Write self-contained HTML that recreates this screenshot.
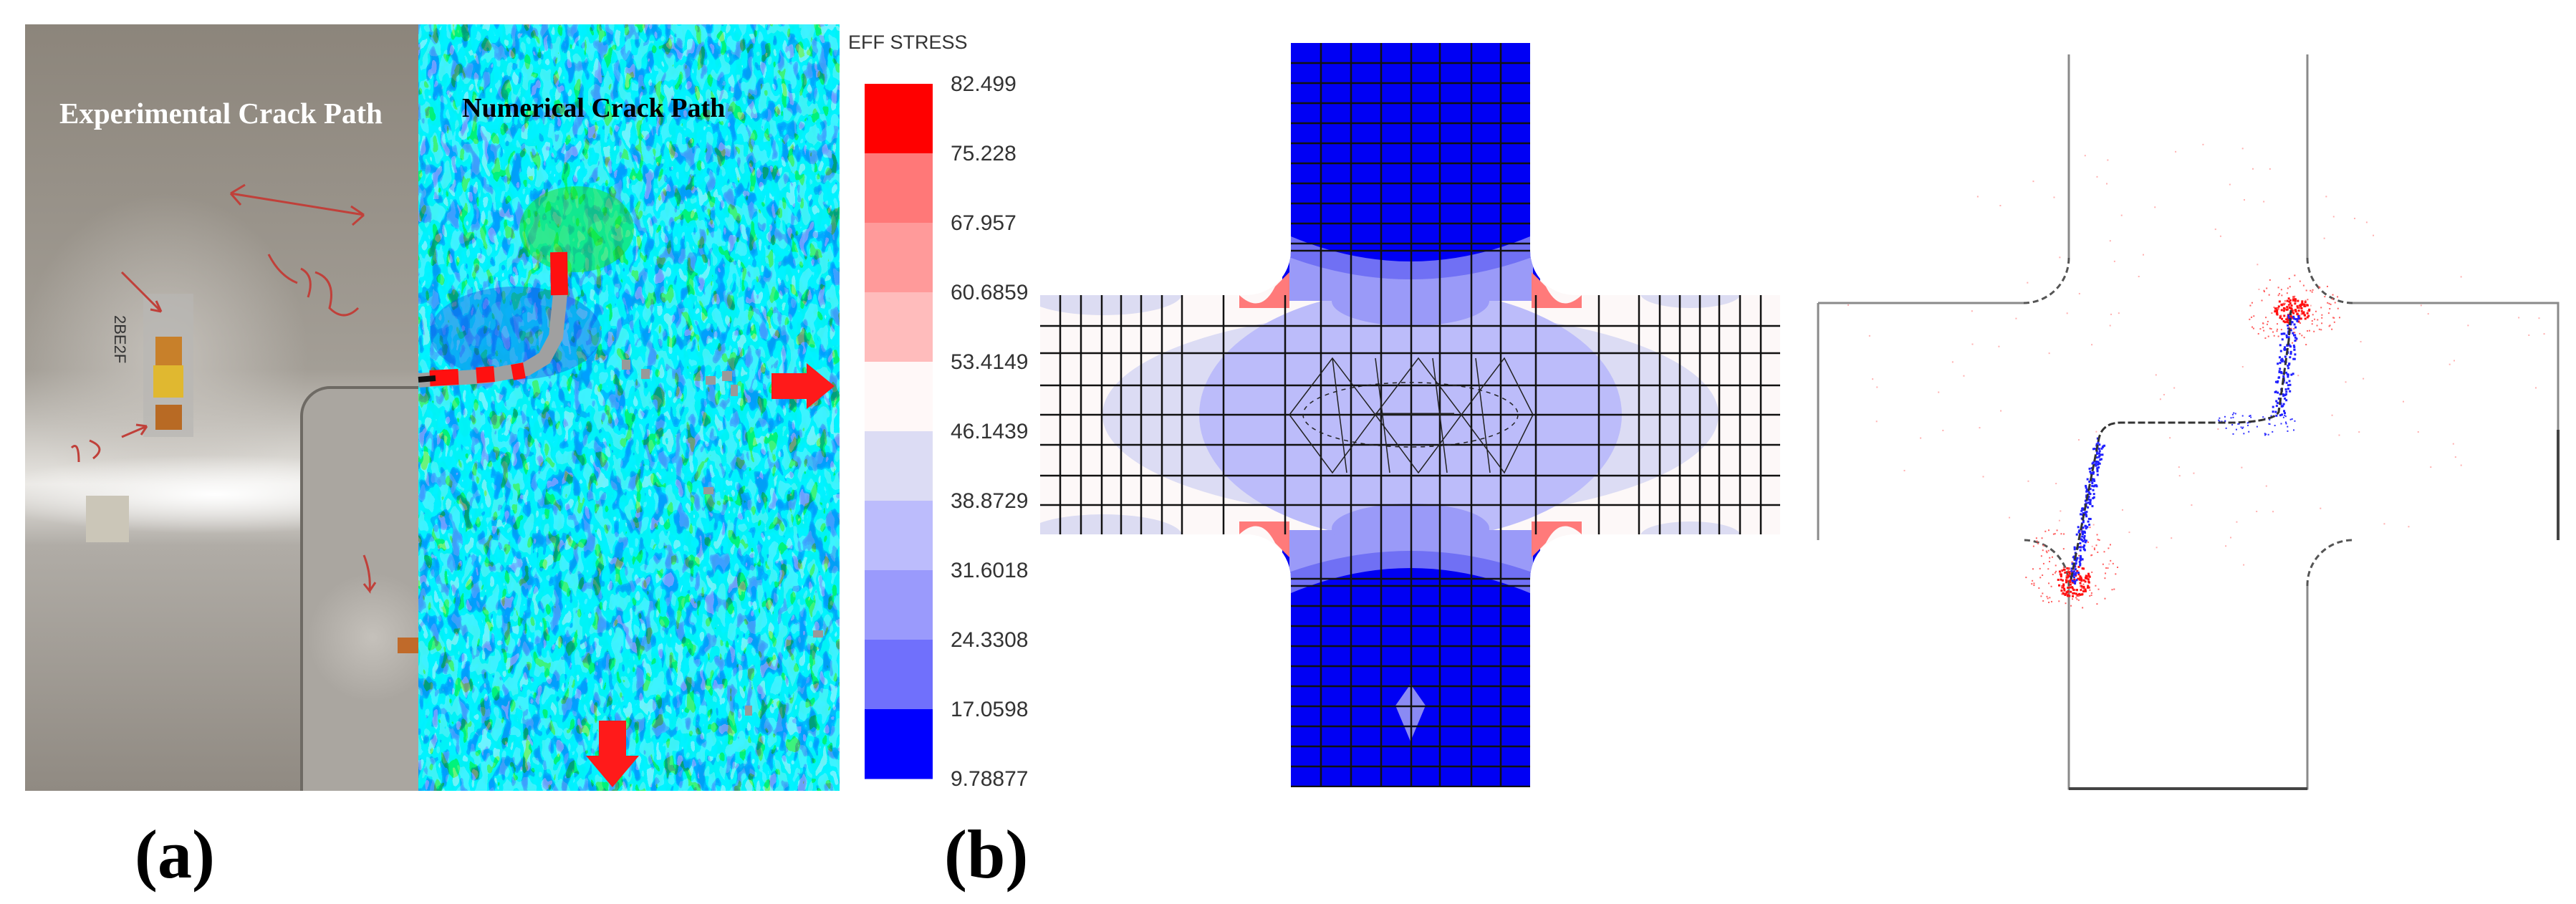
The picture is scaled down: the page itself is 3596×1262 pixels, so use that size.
<!DOCTYPE html>
<html><head><meta charset="utf-8"><style>
html,body{margin:0;padding:0;background:#fff;width:3596px;height:1262px;overflow:hidden}
svg{display:block}
</style></head><body>
<svg width="3596" height="1262" viewBox="0 0 3596 1262" xmlns="http://www.w3.org/2000/svg">
<defs>
  <filter id="dic" x="0" y="0" width="100%" height="100%">
    <feTurbulence type="fractalNoise" baseFrequency="0.07 0.035" numOctaves="2" seed="7" result="n"/>
    <feComponentTransfer in="n" result="m">
      <feFuncR type="discrete" tableValues="0.05 0.05 0.05 0.05 0.05 0.05 0.05 0.05 0.05 0 0 0 0 0.15 0.15 0.15 0.15 0.15 0.15 0.15"/>
      <feFuncG type="discrete" tableValues="0.35 0.35 0.35 0.35 0.35 0.35 0.35 0.4 0.5 0.88 0.9 0.9 0.9 0.88 0.88 0.88 0.88 0.88 0.88 0.88"/>
      <feFuncB type="discrete" tableValues="1 1 1 1 1 1 1 1 1 0.95 0.92 0.92 0.92 0.2 0.2 0.2 0.2 0.2 0.2 0.2"/>
      <feFuncA type="linear" slope="0" intercept="1"/>
    </feComponentTransfer>
  </filter>
  <linearGradient id="photoG" x1="0" y1="0" x2="0" y2="1">
    <stop offset="0" stop-color="#8c857b"/>
    <stop offset="0.45" stop-color="#a39e96"/>
    <stop offset="0.6" stop-color="#e8e6e2"/>
    <stop offset="0.68" stop-color="#b0aca6"/>
    <stop offset="1" stop-color="#908a82"/>
  </linearGradient>
  <radialGradient id="haze" cx="0.5" cy="0.5" r="0.5">
    <stop offset="0" stop-color="#c8c4be" stop-opacity="0.9"/>
    <stop offset="1" stop-color="#c8c4be" stop-opacity="0"/>
  </radialGradient>
  <radialGradient id="streak" cx="0.5" cy="0.5" r="0.5">
    <stop offset="0" stop-color="#ffffff"/>
    <stop offset="1" stop-color="#ffffff" stop-opacity="0"/>
  </radialGradient>
  <clipPath id="photoClip"><rect x="35" y="34" width="549" height="1070"/></clipPath>
  <clipPath id="crossA"><path d="M1802,60 H2136 V350 A62,62 0 0 0 2198,412 H2485 V746 H2198 A62,62 0 0 0 2136,808 V1099 H1802 V808 A62,62 0 0 0 1740,746 H1452 V412 H1740 A62,62 0 0 0 1802,350 Z"/></clipPath>
</defs>

<!-- (a) photo -->
<g clip-path="url(#photoClip)">
  <rect x="35" y="34" width="549" height="1070" fill="url(#photoG)"/>
  <ellipse cx="230" cy="500" rx="200" ry="230" fill="url(#haze)"/>
  <ellipse cx="300" cy="690" rx="330" ry="55" fill="url(#streak)"/>
  <rect x="421" y="541" width="220" height="620" rx="40" fill="#aaa6a0" stroke="#6e6a64" stroke-width="4"/>
  <ellipse cx="520" cy="890" rx="90" ry="90" fill="url(#haze)"/>
  <rect x="200" y="410" width="70" height="200" fill="#b8b6b4" opacity="0.7"/>
  <rect x="217" y="470" width="37" height="40" fill="#c8802a"/>
  <rect x="214" y="510" width="42" height="45" fill="#e0b830"/>
  <rect x="217" y="565" width="37" height="35" fill="#b86a24"/>
  <rect x="120" y="692" width="60" height="65" fill="#cbc6b8"/>
  <rect x="555" y="890" width="29" height="22" fill="#c06a2a"/>
  <g fill="none" stroke="#c0403a" stroke-width="3">
    <path d="M322,270 L508,300 M322,270 L342,258 M322,270 L336,286 M508,300 L490,288 M508,300 L492,314"/>
    <path d="M375,355 q15,30 40,40 M420,375 q20,10 10,40 M440,380 q30 10 20 50 q20 20 40 0"/>
    <path d="M170,380 L225,435 L218,420 M225,435 L210,432"/>
    <path d="M170,610 L205,595 M205,595 l-15,-2 M205,595 l-8,12"/>
    <path d="M100,625 q10,-10 10,20 M125,615 q25,10 5,25"/>
    <path d="M508,775 q10,25 8,50 l-8,-10 M516,825 l8,-12"/>
  </g>
  <text x="160" y="440" font-family="Liberation Sans, sans-serif" font-size="22" fill="#333" transform="rotate(90 160 440)">2BE2F</text>
  <text x="83" y="172" font-family="Liberation Serif, serif" font-weight="bold" font-size="41" fill="#fff">Experimental Crack Path</text>
</g>

<!-- DIC map -->
<g>
  <rect x="584" y="34" width="588" height="1070" fill="#10d8e8"/>
  <rect x="584" y="34" width="588" height="1070" filter="url(#dic)"/>
  <ellipse cx="720" cy="465" rx="120" ry="65" fill="#1a4ce8" opacity="0.4"/>
  <ellipse cx="805" cy="320" rx="80" ry="60" fill="#22e022" opacity="0.5"/>
  <path d="M780,352 L782,410 L776,470 L760,500 L735,515 L680,525 L584,531" fill="none" stroke="#a0a0a0" stroke-width="20"/>
  <path d="M780,352 L781,412" stroke="#ff1010" stroke-width="24"/>
  <path d="M600,528 L640,526 M665,524 L690,522 M715,520 L732,517" stroke="#ff1010" stroke-width="22"/>
  <path d="M584,530 L608,528" stroke="#111" stroke-width="8"/>
  <g fill="#999"><rect x="868" y="502" width="12" height="14"/><rect x="895" y="515" width="12" height="14"/><rect x="985" y="525" width="14" height="12"/><rect x="1008" y="518" width="14" height="14"/><rect x="1020" y="537" width="10" height="16"/><rect x="982" y="680" width="14" height="10"/><rect x="1040" y="985" width="10" height="14"/><rect x="1135" y="880" width="14" height="10"/></g>
  <path d="M1077,521 H1126 V507 L1165,539 L1126,571 V557 H1077 Z" fill="#ff1a1a"/>
  <path d="M836,1006 H874 V1055 H892 L855,1099 L818,1055 H836 Z" fill="#ff1a1a"/>
  <text x="645" y="163" font-family="Liberation Serif, serif" font-weight="bold" font-size="38" fill="#000">Numerical Crack Path</text>
</g>

<!-- colorbar -->
<g font-family="Liberation Sans, sans-serif" font-size="30" fill="#333">
  <text x="1184" y="68" font-size="27">EFF STRESS</text>
  <g id="cbar"></g>
</g>

<text x="188" y="1225" font-family="Liberation Serif, serif" font-weight="bold" font-size="96" fill="#000">(a)</text>
<text x="1318" y="1225" font-family="Liberation Serif, serif" font-weight="bold" font-size="96" fill="#000">(b)</text>

<!-- FE model -->
<g>
  <g clip-path="url(#crossA)">
    <rect x="1440" y="50" width="1060" height="1060" fill="#fdf8f8"/>
    <rect x="1790" y="50" width="360" height="360" fill="#0000f4"/>
    <rect x="1790" y="748" width="360" height="360" fill="#0000f4"/>
    <ellipse cx="1540" cy="410" rx="110" ry="30" fill="#dcdcf2"/>
    <ellipse cx="1540" cy="748" rx="110" ry="30" fill="#dcdcf2"/>
    <ellipse cx="2360" cy="410" rx="70" ry="20" fill="#dcdcf2"/>
    <ellipse cx="2360" cy="748" rx="70" ry="20" fill="#dcdcf2"/>
    <ellipse cx="1969" cy="579" rx="430" ry="145" fill="#dcdcf4"/>
    <ellipse cx="1969" cy="579" rx="295" ry="175" fill="#bcbcfa"/>
    <path d="M1800,345 Q1969,420 2140,345 L2140,420 L1800,420 Z" fill="#9a9af8"/>
    <path d="M1800,813 Q1969,738 2140,813 L2140,740 L1800,740 Z" fill="#9a9af8"/>
    <ellipse cx="1969" cy="420" rx="110" ry="35" fill="#9a9af8"/>
    <ellipse cx="1969" cy="738" rx="110" ry="35" fill="#9a9af8"/>
    <path d="M1802,330 Q1969,400 2136,330 L2136,360 Q1969,420 1802,360 Z" fill="#7070f4"/>
    <path d="M1802,828 Q1969,758 2136,828 L2136,798 Q1969,740 1802,798 Z" fill="#7070f4"/>
    <path d="M1969,955 L1990,985 L1969,1035 L1948,985 Z" fill="#8a8af4"/>
    <path d="M1730,412 Q1760,440 1780,400 L1800,380 L1800,430 L1730,430 Z" fill="#ff7a7a"/>
    <path d="M2208,412 Q2178,440 2158,400 L2138,380 L2138,430 L2208,430 Z" fill="#ff7a7a"/>
    <path d="M1730,746 Q1760,718 1780,758 L1800,778 L1800,728 L1730,728 Z" fill="#ff7a7a"/>
    <path d="M2208,746 Q2178,718 2158,758 L2138,778 L2138,728 L2208,728 Z" fill="#ff7a7a"/>
    <g id="mesh" stroke="#111" stroke-width="2.5" fill="none"></g>
    <g stroke="#222" stroke-width="1.5" fill="none">
      <path d="M1800,579 L1860,500 L1920,579 L1980,500 L2040,579 L2100,500 L2140,579 M1800,579 L1860,660 L1920,579 L1980,660 L2040,579 L2100,660 L2140,579 M1860,500 L1880,660 M1920,500 L1940,660 M2000,500 L2020,660 M2060,500 L2080,660"/>
      <ellipse cx="1969" cy="579" rx="150" ry="45" stroke-dasharray="6 6"/>
      <path d="M1920,578 H2030" stroke-width="3"/>
    </g>
  </g>
</g>

<!-- right model -->
<g>
  <path d="M2888,76 V360 M3221,76 V360 M2888,818 V1101 H3221 V818 M2538,423 H2825 M3284,423 H3571 V754 M2538,423 V754" fill="none" stroke="#8a8a8a" stroke-width="3"/>
  <path d="M3571,600 V754 M2888,1101 H3221" stroke="#444" stroke-width="4"/>
  <path d="M2888,360 A63,63 0 0 1 2825,423 M3221,360 A63,63 0 0 0 3284,423 M2888,818 A63,63 0 0 0 2825,754 M3221,818 A63,63 0 0 1 3284,754" fill="none" stroke="#555" stroke-width="3" stroke-dasharray="8 5"/>
  <g id="dots"></g>
  <path d="M2891,809 L2930,612 Q2935,590 2961,590 L3119,590 Q3175,588 3181,575 L3195,475 L3198,433" fill="none" stroke="#333" stroke-width="3" stroke-dasharray="10 4"/>
</g>
</svg>
<script>
// colorbar
const cbLabels=["82.499","75.228","67.957","60.6859","53.4149","46.1439","38.8729","31.6018","24.3308","17.0598","9.78877"];
const cbColors=["#ff0000","#ff7878","#ff9a9a","#ffbcbc","#fff8f8","#dcdcf4","#bcbcfc","#9a9afc","#7070fc","#0000ff"];
const NS="http://www.w3.org/2000/svg";
(function(){
  const g=document.getElementById('cbar');
  const top=117,bot=1087,n=cbColors.length,h=(bot-top)/n;
  cbColors.forEach(function(c,i){
    const r=document.createElementNS(NS,'rect');
    r.setAttribute('x',1207);r.setAttribute('y',top+i*h);r.setAttribute('width',95);r.setAttribute('height',h+0.5);r.setAttribute('fill',c);
    
    
    g.appendChild(r);
  });
  cbLabels.forEach(function(t,i){
    const tx=document.createElementNS(NS,'text');
    tx.setAttribute('x',1327);tx.setAttribute('y',top+i*h+10);tx.textContent=t;
    
    
    g.appendChild(tx);
  });
  // mesh
  const m=document.getElementById('mesh');
  let d="";
  [1844,1886,1928,1970,2010,2054,2095].forEach(function(x){d+="M"+x+",60 V1099 ";});
  for(let y=88;y<350;y+=28)d+="M1802,"+y+" H2136 ";
  for(let y=818;y<1099;y+=28)d+="M1802,"+y+" H2136 ";
  d+="M1802,340 H2136 M1802,350 H2136 M1802,808 H2136 M1802,818 H2136 ";
  [455,493,538,579,621,664,705].forEach(function(y){d+="M1452,"+y+" H2485 ";});
  [1480,1509,1538,1565,1593,1622,1650,1708,1794,2144,2232,2288,2317,2345,2373,2400,2429,2458].forEach(function(x){d+="M"+x+",412 V746 ";});
  const p=document.createElementNS(NS,'path');p.setAttribute('d',d);
  
  
  m.appendChild(p);
  // scatter dots (texture)
  let s=12345;
  function rnd(){s=(s*16807)%2147483647;return s/2147483647;}
  const dg=document.getElementById('dots');
  function cluster(cx,cy,rx,ry,n,col,sz){
    for(let i=0;i<n;i++){
      const a=rnd()*6.283,r=Math.sqrt(rnd());
      const c=document.createElementNS(NS,'rect');
      c.setAttribute('x',cx+Math.cos(a)*r*rx);c.setAttribute('y',cy+Math.sin(a)*r*ry);
      c.setAttribute('width',sz);c.setAttribute('height',sz);c.setAttribute('fill',col);
      dg.appendChild(c);
    }
  }
  cluster(3198,433,25,20,120,"#ff1010",3);cluster(3198,433,70,50,120,"#ff6060",2);
  cluster(2893,810,25,22,120,"#ff1010",3);cluster(2893,790,70,60,120,"#ff6060",2);
  for(let t=0;t<1;t+=0.02){cluster(2893+(2930-2893)*t,809+(612-809)*t,8,6,4,"#2020ff",3);}
  for(let t=0;t<1;t+=0.03){cluster(3181+(3198-3181)*t,575+(440-575)*t,12,8,4,"#2020ff",3);}
  cluster(3150,590,60,18,60,"#3030ff",2);
  cluster(3060,500,500,300,120,"#ffb0b0",2);
})();
</script>
</body></html>
